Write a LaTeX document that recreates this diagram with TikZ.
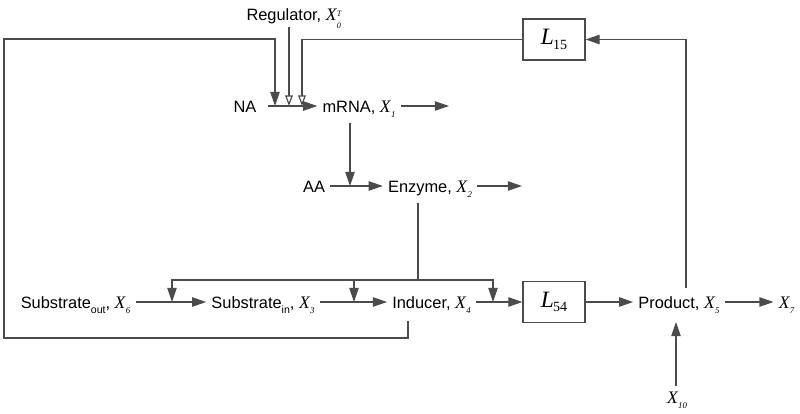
\documentclass[tikz,border=0pt]{standalone}
\usepackage{fontspec}
\setmainfont{Liberation Sans}
\newfontfamily\tms{Liberation Serif}
\usetikzlibrary{arrows.meta}
\definecolor{lc}{RGB}{75,75,75}
\newcommand{\Xs}[1]{{\tms\itshape\fontsize{15}{15}\selectfont X}\kern0.3pt\raisebox{-0.5ex}{\tms\itshape\fontsize{7.5}{7.5}\selectfont #1}}
\newcommand{\XsT}{{\tms\itshape\fontsize{15}{15}\selectfont X}\kern0.3pt\raisebox{-0.9ex}{\tms\itshape\fontsize{7}{7}\selectfont\shortstack[l]{T\\[2.5pt]0}}}
\newcommand{\Lb}[1]{{\tms\itshape\fontsize{20}{20}\selectfont L}\kern-0.5pt\raisebox{-0.7ex}{\tms\fontsize{12}{12}\selectfont #1}}
\newcommand{\sbs}[1]{\raisebox{-0.55ex}{\fontsize{9}{9}\selectfont #1}}
\begin{document}
\begin{tikzpicture}[x=0.03cm,y=-0.03cm,line width=1pt,
  lbl/.style={inner xsep=4pt,inner ysep=3pt,text height=11.5pt,text depth=0pt,font=\fontsize{14}{16}\selectfont},
  boxn/.style={draw=lc,line width=1pt,minimum width=1.86cm,minimum height=1.23cm,inner sep=0pt},
  fl/.style={draw=lc,-{Triangle[length=12pt,width=8pt]}},
  ol/.style={draw=lc,-{Triangle[open,length=9pt,width=6.5pt,fill=white]}},
  ln/.style={draw=lc}]
\useasboundingbox (0,0) rectangle (800,413);
% nodes
\node[lbl] (reg) at (294,14) {Regulator, \XsT};
\node[lbl] (NA) at (245,106) {NA};
\node[lbl] (mrna) at (359,106) {mRNA, \Xs{1}};
\node[lbl] (AA) at (314,186) {AA};
\node[lbl] (enz) at (430,186) {Enzyme, \Xs{2}};
\node[lbl] (subo) at (75.5,302) {Substrate\sbs{out}, \Xs{6}};
\node[lbl] (subi) at (263,302) {Substrate\sbs{in}, \Xs{3}};
\node[lbl] (ind) at (431.5,302) {Inducer, \Xs{4}};
\node[boxn] (L54) at (554,302) {\Lb{54}};
\node[boxn] (L15) at (554,39.5) {\Lb{15}};
\node[lbl] (prod) at (679,302) {Product, \Xs{5}};
\node[lbl] (x7) at (786.5,302) {\Xs{7}};
\node[lbl] (x10) at (677,397) {\Xs{10}};
% coordinates
\coordinate (jA) at (275,106);
\coordinate (jR) at (289,106);
\coordinate (jC) at (302,106);
\coordinate (rS) at (289,27);
\coordinate (m1o) at (449,106);
\coordinate (mS) at (350,123);
\coordinate (jE) at (350,186);
\coordinate (e2o) at (522,186);
\coordinate (eS) at (418,203);
\coordinate (jT) at (418,280);
\coordinate (b1) at (172,302);
\coordinate (b2) at (354,302);
\coordinate (b3) at (493,302);
\coordinate (lpTL) at (4,39);
\coordinate (lpBL) at (4,338);
\coordinate (lpBR) at (408,338);
\coordinate (indS) at (408,321);
\coordinate (pT) at (686,288);
\coordinate (pS) at (676,322);
% connectors
\draw[fl,shorten <=5pt] (NA.east) -- (mrna.west);
\draw[fl] (mrna.east) -- (m1o);
\draw[fl] (mS) -- (jE);
\draw[fl] (AA.east) -- (enz.west);
\draw[fl] (enz.east) -- (e2o);
\draw[ln] (eS) -- (jT);
\draw[fl] (jT) -| (b1);
\draw[fl] (jT) -| (b3);
\draw[fl] (b2 |- jT) -- (b2);
\draw[fl] (subo.east) -- (subi.west);
\draw[fl] (subi.east) -- (ind.west);
\draw[fl] (ind.east) -- (L54.west);
\draw[fl] (L54.east) -- (prod.west);
\draw[fl] (prod.east) -- (x7.west);
\draw[fl] (x10.north -| pS) -- (pS);
\draw[fl] (pT) |- (L15.east);
\draw[ol] (L15.west) -| (jC);
\draw[ol] (rS) -- (jR);
\draw[fl] (indS) -- (lpBR) -- (lpBL) -- (lpTL) -| (jA);
\end{tikzpicture}
\end{document}
